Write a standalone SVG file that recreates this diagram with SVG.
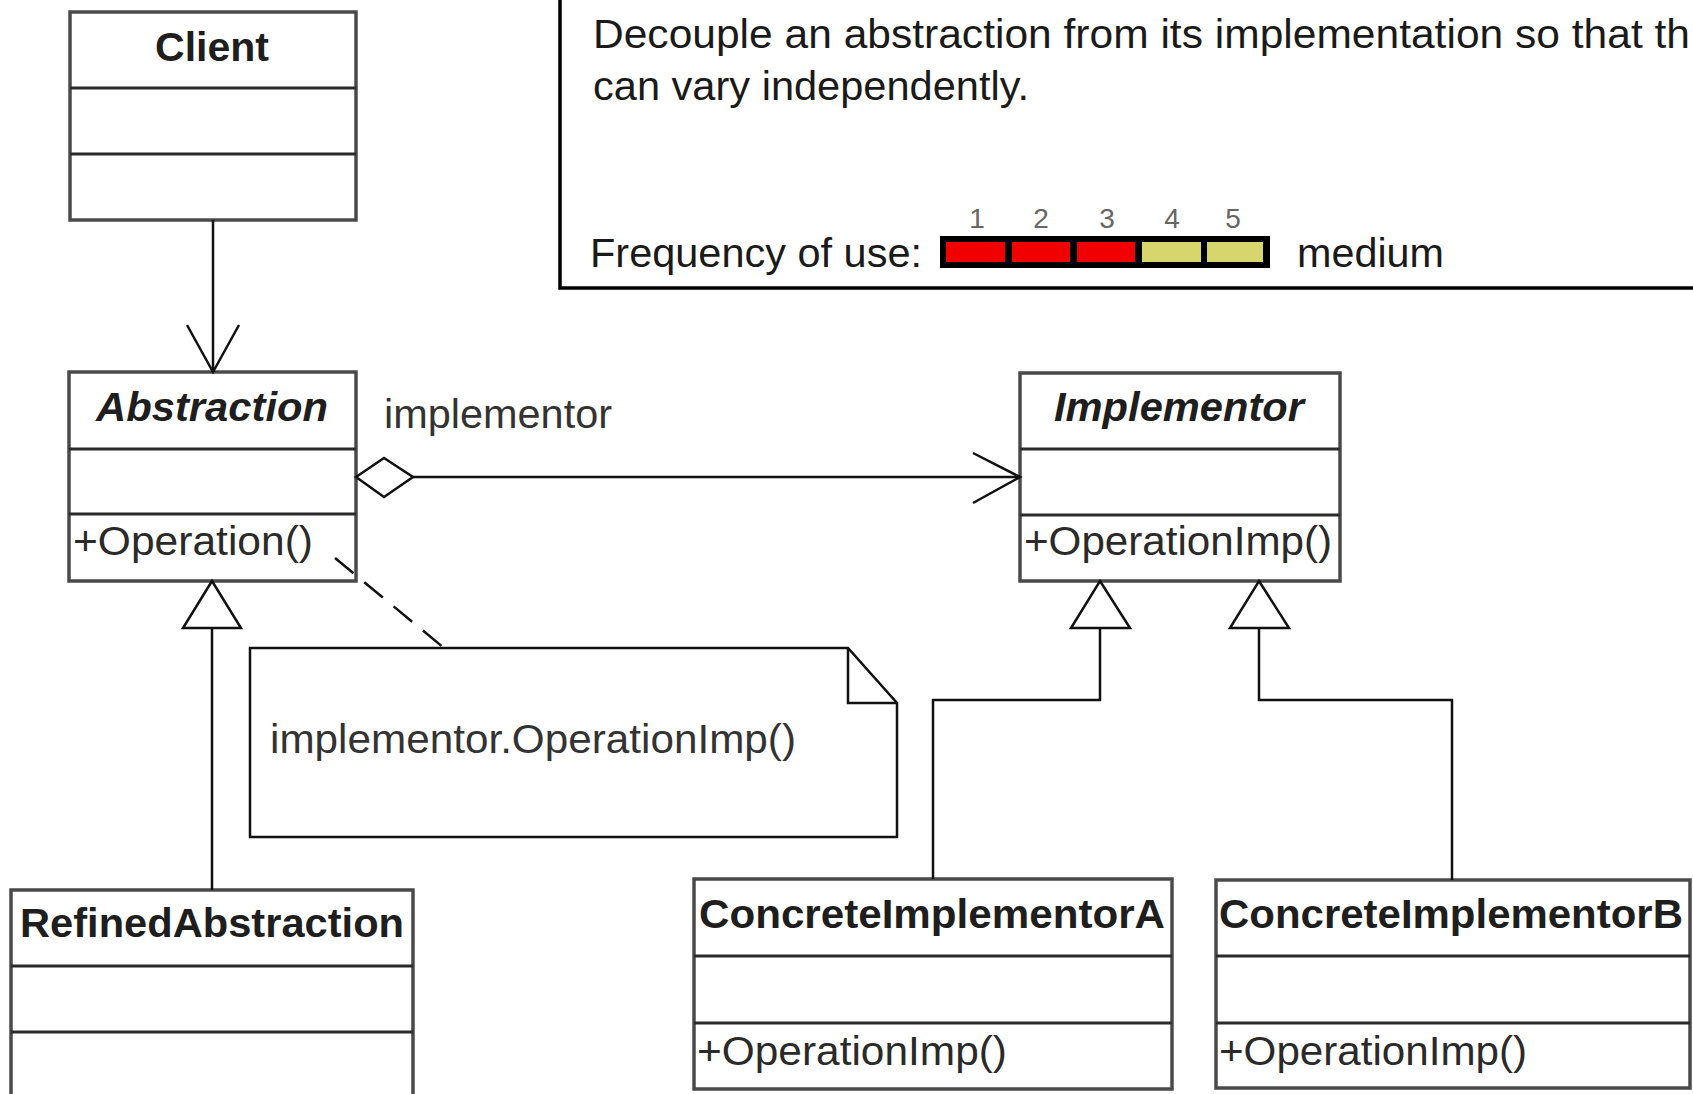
<svg xmlns="http://www.w3.org/2000/svg" width="1693" height="1094" viewBox="0 0 1693 1094">
<defs>
<style>
.box{fill:#fff;stroke:#4a4a4a;stroke-width:3.5}
.div{stroke:#2a2a2a;stroke-width:3}
.title{font-family:"Liberation Sans",Arial,sans-serif;font-size:41px;font-weight:bold;fill:#1e1e1e;text-anchor:middle}
.abs{font-style:italic}
.op{font-family:"Liberation Sans",Arial,sans-serif;font-size:41px;fill:#2a2a2a}
.lbl{font-family:"Liberation Sans",Arial,sans-serif;font-size:41px;fill:#333}
.desc{font-family:"Liberation Sans",Arial,sans-serif;font-size:41px;fill:#1a1a1a}
.num{font-family:"Liberation Sans",Arial,sans-serif;font-size:28px;fill:#666;text-anchor:middle}
.ln{fill:none;stroke:#111;stroke-width:2.5}
.tri{fill:#fff;stroke:#111;stroke-width:2.5;stroke-linejoin:miter}
.red{fill:#f00000}
.yel{fill:#d6d66c}
</style>
</defs>
<rect width="1693" height="1094" fill="#fff"/>

<g id="description">
<path d="M560,0 V288 H1693" fill="none" stroke="#000" stroke-width="3.5"/>
<text class="desc" x="593" y="48" textLength="1097" lengthAdjust="spacingAndGlyphs">Decouple an abstraction from its implementation so that th</text>
<text class="desc" x="593" y="100" textLength="436" lengthAdjust="spacingAndGlyphs">can vary independently.</text>
<text class="desc" x="590" y="267" textLength="332" lengthAdjust="spacingAndGlyphs">Frequency of use:</text>
<rect x="940" y="236" width="330" height="32" fill="#000"/>
<rect class="red" x="946" y="242" width="59" height="20"/>
<rect class="red" x="1012" y="242" width="58" height="20"/>
<rect class="red" x="1077" y="242" width="58" height="20"/>
<rect class="yel" x="1142" y="242" width="59" height="20"/>
<rect class="yel" x="1207" y="242" width="56" height="20"/>
<text class="num" x="977" y="228">1</text>
<text class="num" x="1041" y="228">2</text>
<text class="num" x="1107" y="228">3</text>
<text class="num" x="1172" y="228">4</text>
<text class="num" x="1233" y="228">5</text>
<text class="desc" x="1297" y="267" textLength="147" lengthAdjust="spacingAndGlyphs">medium</text>
</g>

<g id="client">
<rect class="box" x="70" y="12" width="286" height="208"/>
<line class="div" x1="70" y1="88" x2="356" y2="88"/>
<line class="div" x1="70" y1="154" x2="356" y2="154"/>
<text class="title" x="212" y="61">Client</text>
</g>

<g id="abstraction">
<rect class="box" x="69" y="372" width="287" height="209"/>
<line class="div" x1="69" y1="449" x2="356" y2="449"/>
<line class="div" x1="69" y1="514" x2="356" y2="514"/>
<text class="title abs" x="212" y="421" textLength="232" lengthAdjust="spacingAndGlyphs">Abstraction</text>
<text class="op" x="73" y="555" textLength="240" lengthAdjust="spacingAndGlyphs">+Operation()</text>
</g>

<g id="implementor">
<rect class="box" x="1020" y="373" width="320" height="208"/>
<line class="div" x1="1020" y1="449" x2="1340" y2="449"/>
<line class="div" x1="1020" y1="515" x2="1340" y2="515"/>
<text class="title abs" x="1179" y="421" textLength="250" lengthAdjust="spacingAndGlyphs">Implementor</text>
<text class="op" x="1024" y="555" textLength="308" lengthAdjust="spacingAndGlyphs">+OperationImp()</text>
</g>

<g id="refinedabstraction">
<rect class="box" x="11" y="890" width="402" height="212"/>
<line class="div" x1="11" y1="966" x2="413" y2="966"/>
<line class="div" x1="11" y1="1032" x2="413" y2="1032"/>
<text class="title" x="212" y="937" textLength="384" lengthAdjust="spacingAndGlyphs">RefinedAbstraction</text>
</g>

<g id="concreteimplementora">
<rect class="box" x="694" y="879" width="478" height="210"/>
<line class="div" x1="694" y1="956" x2="1172" y2="956"/>
<line class="div" x1="694" y1="1023" x2="1172" y2="1023"/>
<text class="title" x="932" y="928" textLength="466" lengthAdjust="spacingAndGlyphs">ConcreteImplementorA</text>
<text class="op" x="697" y="1065" textLength="310" lengthAdjust="spacingAndGlyphs">+OperationImp()</text>
</g>

<g id="concreteimplementorb">
<rect class="box" x="1216" y="880" width="474" height="208"/>
<line class="div" x1="1216" y1="956" x2="1690" y2="956"/>
<line class="div" x1="1216" y1="1023" x2="1690" y2="1023"/>
<text class="title" x="1451" y="928" textLength="464" lengthAdjust="spacingAndGlyphs">ConcreteImplementorB</text>
<text class="op" x="1219" y="1065" textLength="308" lengthAdjust="spacingAndGlyphs">+OperationImp()</text>
</g>

<g id="note">
<path d="M250,648 H848 L897,703 V837 H250 Z" fill="#fff" stroke="#111" stroke-width="2.5"/>
<path d="M848,648 V703 H897" fill="none" stroke="#111" stroke-width="2.5"/>
<text class="lbl" x="270" y="753" textLength="526" lengthAdjust="spacingAndGlyphs">implementor.OperationImp()</text>
</g>

<g id="connectors">
<line class="ln" x1="213" y1="220" x2="213" y2="372"/>
<path class="ln" d="M187,325 L213,372 L239,325"/>
<line class="ln" x1="413" y1="477" x2="1020" y2="477"/>
<path class="ln" d="M973,453 L1020,477 L973,503"/>
<path d="M356,477 L384,458 L413,477 L384,497 Z" fill="#fff" stroke="#111" stroke-width="2.5"/>
<text class="lbl" x="384" y="428" textLength="228" lengthAdjust="spacingAndGlyphs">implementor</text>
<line class="ln" x1="335" y1="558" x2="444" y2="648" stroke-dasharray="24 14"/>
<line class="ln" x1="212" y1="628" x2="212" y2="890"/>
<path class="tri" d="M212,581 L241,628 L183,628 Z"/>
<path class="ln" d="M933,879 V700 H1100 V628"/>
<path class="tri" d="M1100,581 L1130,628 L1071,628 Z"/>
<path class="ln" d="M1452,880 V700 H1259 V628"/>
<path class="tri" d="M1259,581 L1289,628 L1230,628 Z"/>
</g>
</svg>
